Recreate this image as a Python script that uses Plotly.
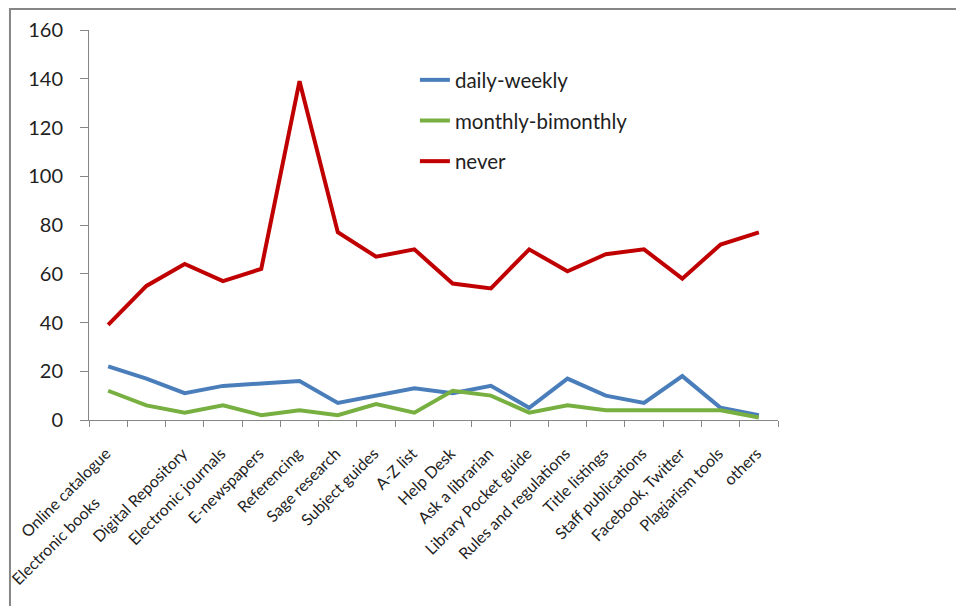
import plotly.graph_objects as go

# Library e-resources: how often each service is used
categories = [
    "Online catalogue",
    "Electronic books" + "\u00a0" * 17,
    "Digital Repository",
    "Electronic journals",
    "E-newspapers",
    "Referencing",
    "Sage research",
    "Subject guides",
    "A-Z list",
    "Help Desk",
    "Ask a librarian",
    "Library Pocket guide",
    "Rules and regulations",
    "Title listings",
    "Staff publications",
    "Facebook, Twitter",
    "Plagiarism tools",
    "others",
]

daily_weekly = [22, 17, 11, 14, 15, 16, 7, 10, 13, 11, 14, 5, 17, 10, 7, 18, 5, 2]
monthly_bimonthly = [12, 6, 3, 6, 2, 4, 2, 6.5, 3, 12, 10, 3, 6, 4, 4, 4, 4, 1]
never = [39, 55, 64, 57, 62, 139, 77, 67, 70, 56, 54, 70, 61, 68, 70, 58, 72, 77]

y_ticks = [0, 20, 40, 60, 80, 100, 120, 140, 160]

series = [
    ("daily-weekly", daily_weekly, "#4A7EBB"),
    ("monthly-bimonthly", monthly_bimonthly, "#77B041"),
    ("never", never, "#C00000"),
]

FONT = "Lato, Calibri, sans-serif"
TEXT = "#1f1f1f"
AXIS = "#868686"

fig = go.Figure()
for name, vals, color in series:
    fig.add_trace(go.Scatter(
        x=categories, y=vals, name=name, mode="lines",
        line=dict(color=color, width=4),
        legendgroup=name,
    ))

fig.update_layout(
    width=956, height=606,
    margin=dict(l=89, r=178, t=30, b=186),
    paper_bgcolor="white", plot_bgcolor="white",
    font=dict(family=FONT, size=18, color=TEXT),
    showlegend=True,
    legend=dict(
        x=0.473, y=0.923, xanchor="left", yanchor="top",
        bgcolor="rgba(0,0,0,0)",
        font=dict(family=FONT, size=20.5, color=TEXT),
        traceorder="grouped", tracegroupgap=11,
        itemwidth=30,
    ),
    xaxis=dict(
        type="category", tickson="boundaries",
        showline=True, linecolor=AXIS, linewidth=1,
        ticks="outside", ticklen=6, tickcolor=AXIS,
        tickangle=-45, showgrid=False, zeroline=False,
        automargin=False,
        ticklabelshift=-2, ticklabelstandoff=17,
        tickfont=dict(family=FONT, size=16, color=TEXT),
        range=[-0.5, len(categories) - 0.5],
    ),
    yaxis=dict(
        range=[0, 160], tickvals=y_ticks,
        showline=True, linecolor=AXIS, linewidth=1,
        ticks="outside", ticklen=8, tickcolor=AXIS,
        showgrid=False, zeroline=False, automargin=False,
        ticklabelstandoff=13,
        tickfont=dict(family=FONT, size=20, color=TEXT),
    ),
    shapes=[dict(
        type="rect", xref="paper", yref="paper",
        x0=-0.1147, x1=1.5, y0=-0.7, y1=1.0538,
        line=dict(color=AXIS, width=2), fillcolor="rgba(0,0,0,0)",
        layer="below",
    )],
)

fig.write_html("out.html")
